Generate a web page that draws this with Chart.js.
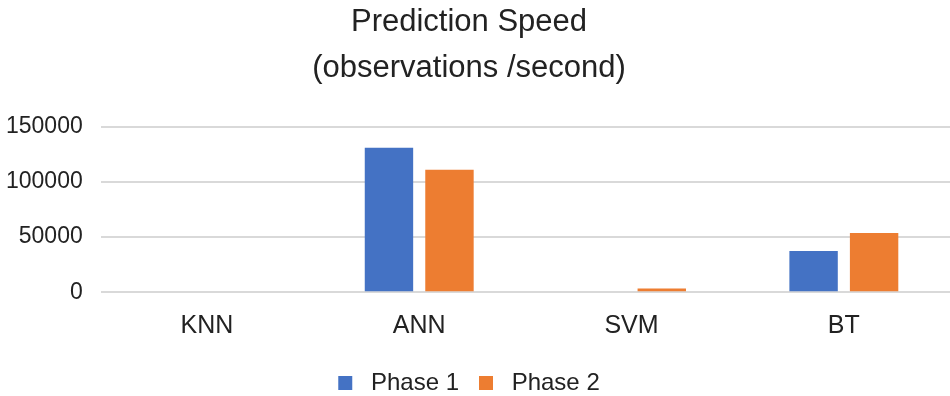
<!DOCTYPE html>
<html><head><meta charset="utf-8">
<script src="https://cdn.jsdelivr.net/npm/chart.js@4"></script>
<style>html,body{margin:0;padding:0;background:#fff}#w{width:950px;height:396px}</style>
</head><body><div id="w"><canvas id="c"></canvas></div>
<script>
const categories = ["KNN", "ANN", "SVM", "BT"];
const phase1 = [0, 131000, 0, 37300];
const phase2 = [0, 111000, 3500, 53700];
const yTicks = [0, 50000, 100000, 150000];

Chart.defaults.font.family = "'Liberation Sans', Arial, sans-serif";
Chart.defaults.color = "#222";
new Chart(document.getElementById('c'), {
  type: 'bar',
  data: {
    labels: categories,
    datasets: [
      {label: 'Phase 1', data: phase1, backgroundColor: '#4472C4'},
      {label: 'Phase 2', data: phase2, backgroundColor: '#ED7D31'}
    ]
  },
  options: {
    responsive: true, maintainAspectRatio: false, animation: false,
    categoryPercentage: 0.57, barPercentage: 0.8,
    layout: {padding: {left: -12, right: 0, top: 0, bottom: -9}},
    plugins: {
      title: {display: true, text: ['Prediction Speed', '(observations /second)'],
        font: {size: 31, weight: 'normal', lineHeight: 1.48}, color: '#222', padding: {top: 0, bottom: 35}},
      legend: {position: 'bottom', labels: {boxWidth: 14, boxHeight: 14, font: {size: 24}, color: '#222', padding: 20,
        generateLabels: chart => Chart.defaults.plugins.legend.labels.generateLabels(chart).map(l => Object.assign(l, {text: ' ' + l.text}))}},
      tooltip: {enabled: false}
    },
    scales: {
      x: {grid: {display: false}, border: {display: false},
          ticks: {font: {size: 25, lineHeight: 1.47}, color: '#222', padding: 7}},
      y: {min: 0, max: 150000, afterBuildTicks: ax => { ax.ticks = yTicks.map(v => ({value: v})); },
          grid: {color: '#d9d9d9', lineWidth: 2, drawTicks: false}, border: {display: false},
          ticks: {font: {size: 23}, color: '#222', padding: 18, callback: v => String(v)}}
    }
  }
});
</script></body></html>
